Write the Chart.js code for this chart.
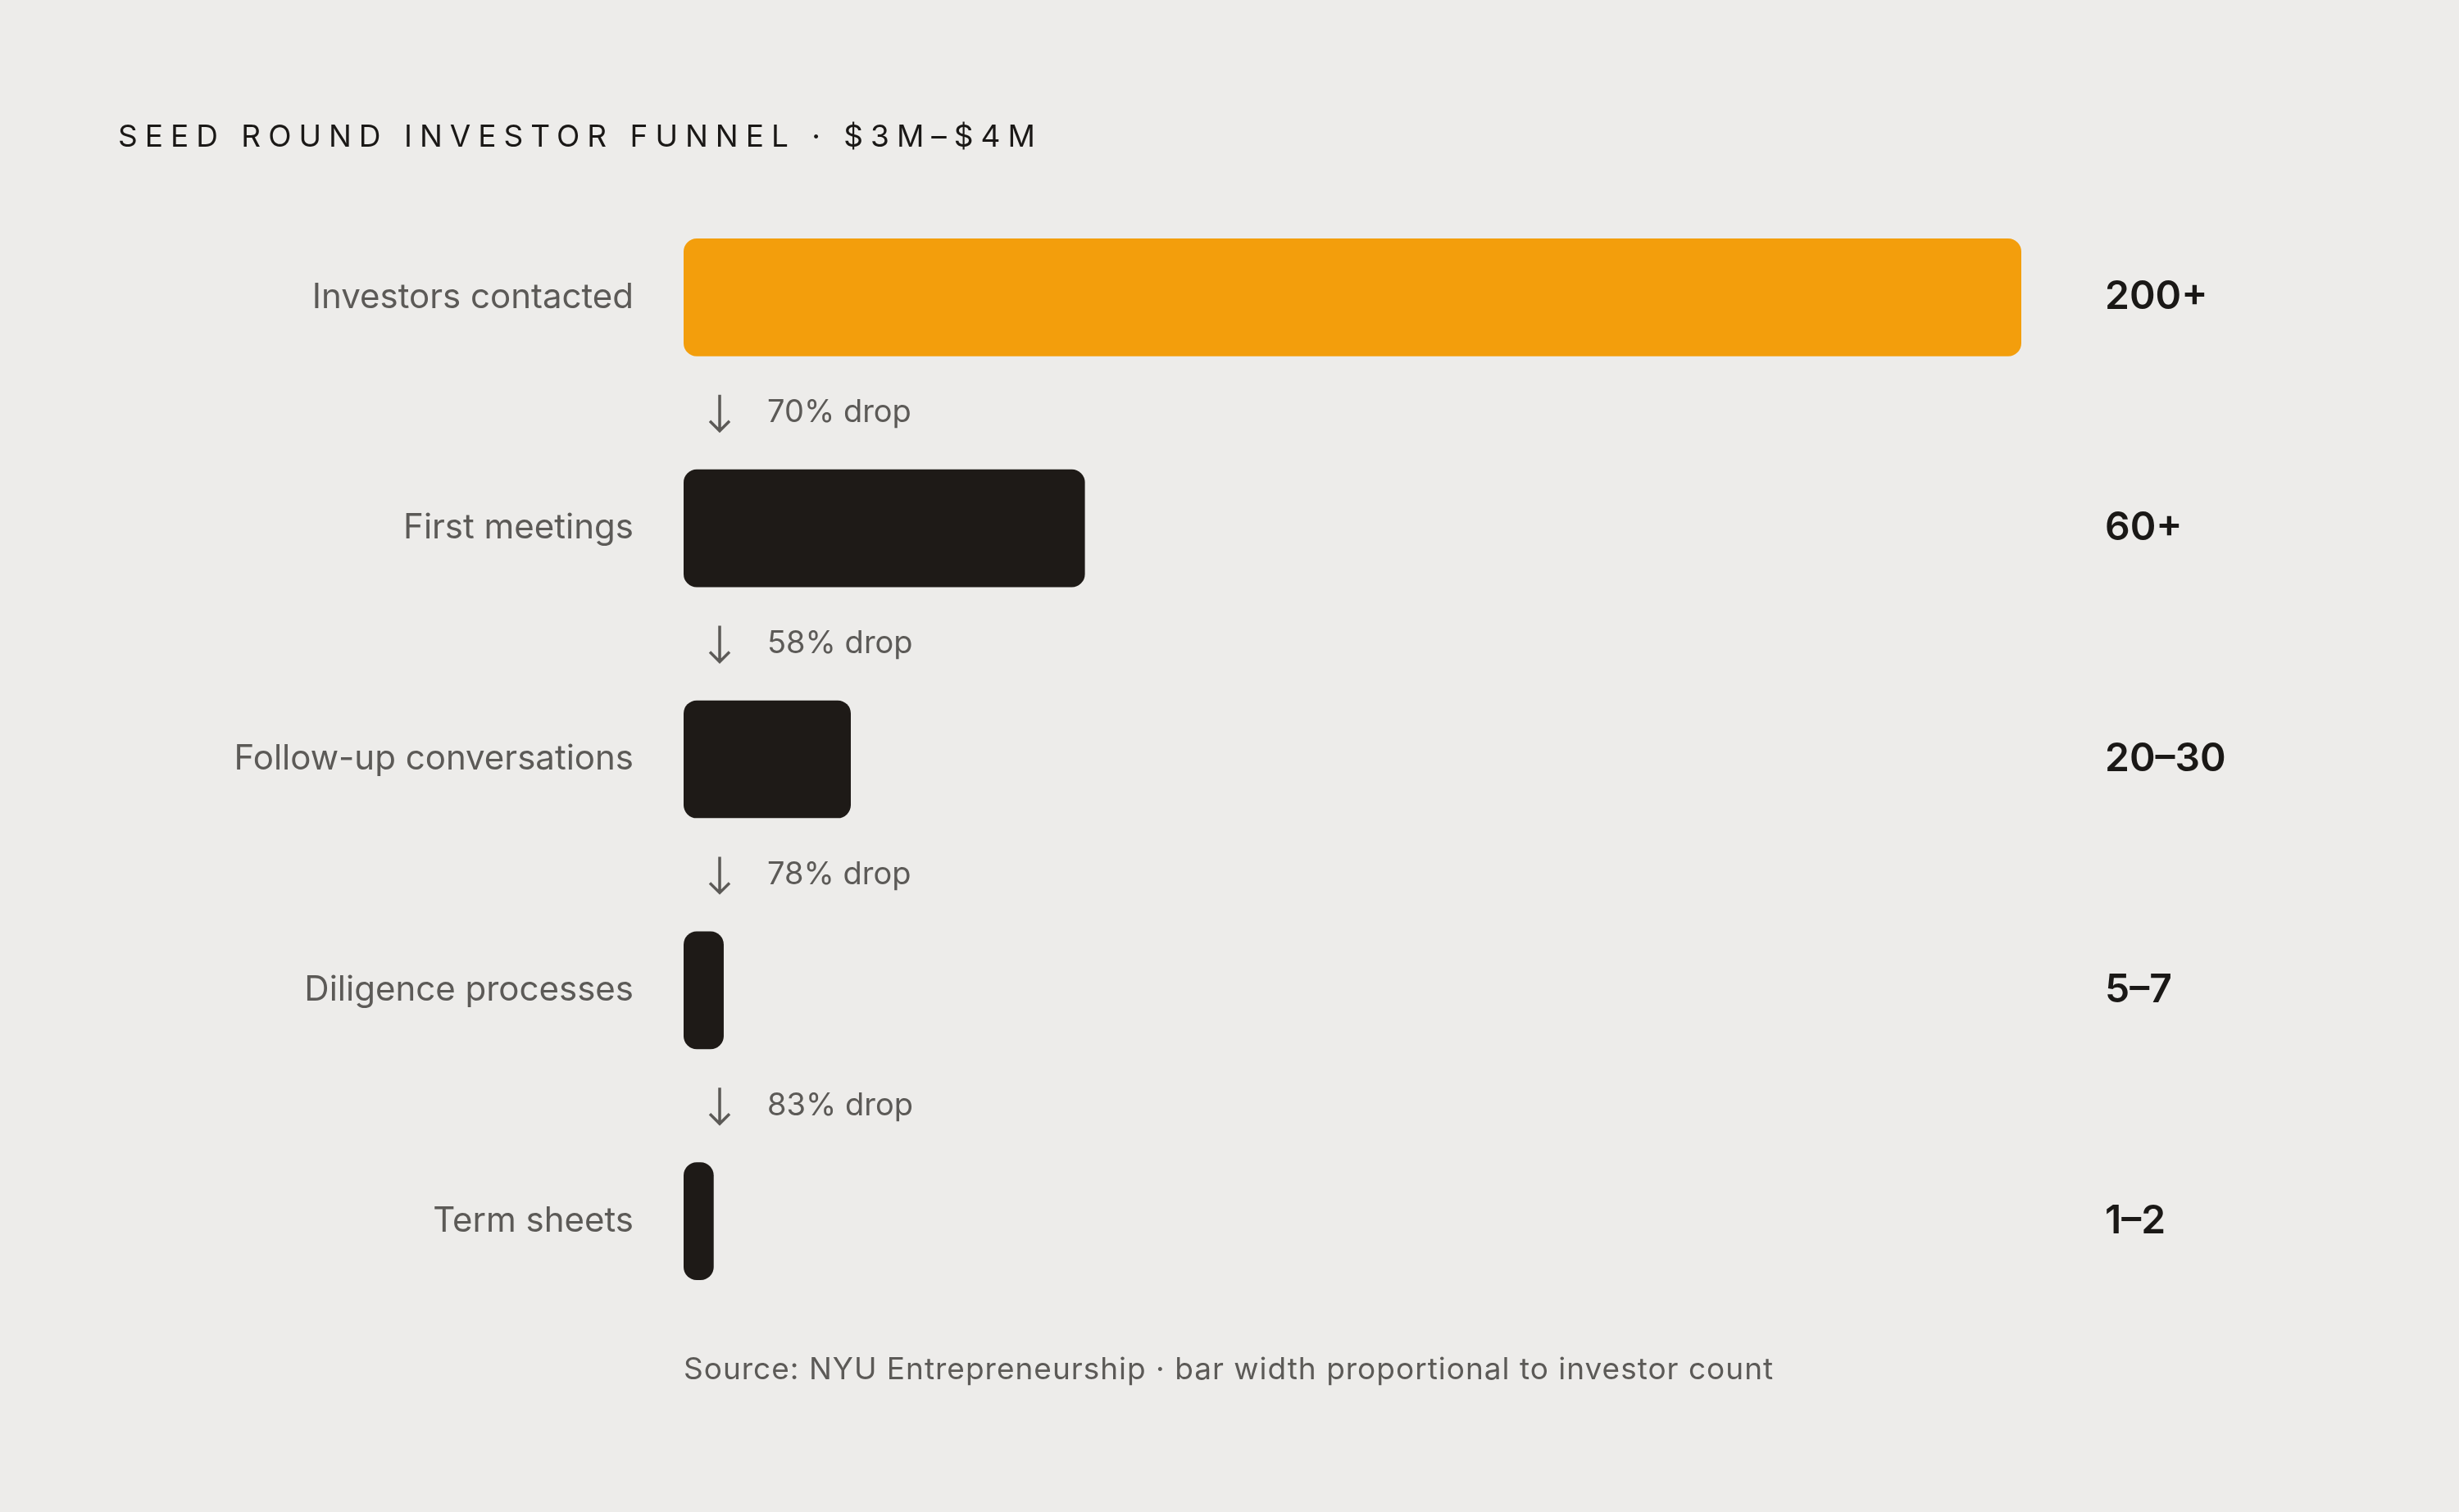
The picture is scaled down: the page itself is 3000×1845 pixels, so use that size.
<!DOCTYPE html>
<html>
<head>
<meta charset="utf-8">
<script src="https://cdn.jsdelivr.net/npm/chart.js@4/dist/chart.umd.min.js"></script>
<style>
  html, body { margin: 0; padding: 0; background: #edecea; }
  #wrap { width: 3000px; height: 1845px; position: relative; }
</style>
</head>
<body>
<div id="wrap"><canvas id="funnel"></canvas></div>
<script>
const stages = ["Investors contacted", "First meetings", "Follow-up conversations", "Diligence processes", "Term sheets"];
const barValues = [200, 60, 25, 6, 4.5];
const countLabels = ["200+", "60+", "20–30", "5–7", "1–2"];
const dropLabels = ["70% drop", "58% drop", "78% drop", "83% drop"];
const barColors = ["#f39e0c", "#1e1a17", "#1e1a17", "#1e1a17", "#1e1a17"];

const FONT = "Inter, 'DejaVu Sans', sans-serif";

// labels, counts, drop arrows, title and source
const annotations = {
  id: "annotations",
  afterDatasetsDraw(chart) {
    const { ctx, chartArea } = chart;
    const y = chart.scales.y;
    ctx.save();
    ctx.textBaseline = "middle";

    stages.forEach((s, i) => {
      const cy = y.getPixelForValue(i);
      ctx.fillStyle = "#5c5a57";
      ctx.font = "400 42px " + FONT;
      ctx.textAlign = "right";
      ctx.fillText(s, chartArea.left - 61, cy);

      ctx.fillStyle = "#1a1816";
      ctx.font = "600 48px " + FONT;
      ctx.textAlign = "left";
      ctx.fillText(countLabels[i], 2568, cy);
    });

    dropLabels.forEach((d, i) => {
      const my = (y.getPixelForValue(i) + y.getPixelForValue(i + 1)) / 2;
      const ax = chartArea.left + 44;
      ctx.strokeStyle = "#5c5a57";
      ctx.lineWidth = 3.5;
      ctx.beginPath();
      ctx.moveTo(ax, my - 22);
      ctx.lineTo(ax, my + 22);
      ctx.moveTo(ax - 12, my + 10);
      ctx.lineTo(ax, my + 22);
      ctx.lineTo(ax + 12, my + 10);
      ctx.stroke();
      ctx.fillStyle = "#5c5a57";
      ctx.font = "400 38px " + FONT;
      ctx.textAlign = "left";
      ctx.fillText(d, chartArea.left + 102, my);
    });

    ctx.fillStyle = "#1a1816";
    ctx.font = "400 37px " + FONT;
    ctx.letterSpacing = "9px";
    ctx.fillText("SEED ROUND INVESTOR FUNNEL · $3M–$4M", 144, 168);
    ctx.letterSpacing = "1px";
    ctx.fillStyle = "#5c5a57";
    ctx.font = "400 37px " + FONT;
    ctx.fillText("Source: NYU Entrepreneurship · bar width proportional to investor count", chartArea.left, 1672);
    ctx.restore();
  }
};

new Chart(document.getElementById("funnel"), {
  type: "bar",
  data: {
    labels: stages,
    datasets: [{
      data: barValues,
      backgroundColor: barColors,
      borderRadius: 16,
      borderSkipped: false,
      barPercentage: 1,
      categoryPercentage: 0.51
    }]
  },
  options: {
    indexAxis: "y",
    responsive: true,
    maintainAspectRatio: false,
    animation: false,
    layout: { padding: { left: 834, right: 534, top: 222, bottom: 214 } },
    plugins: { legend: { display: false }, tooltip: { enabled: false } },
    scales: {
      x: { display: false, min: 0, max: 200 },
      y: { display: false }
    }
  },
  plugins: [annotations]
});
</script>
</body>
</html>
